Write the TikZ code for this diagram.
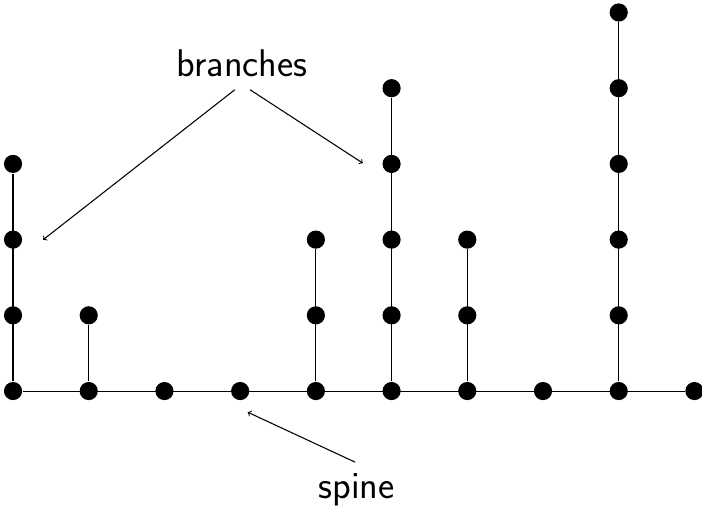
\documentclass[tikz,border=0pt]{standalone}
\usepackage[svgnames,x11names]{xcolor}
\usepackage{tikz}
\usetikzlibrary{arrows,positioning,calc}

\begin{document}
\begin{tikzpicture}[
	x=2cm, y=2cm,
	line width=0.8pt,
	vertex/.style={
		circle,
		fill=Black,
		inner sep=0pt,
		minimum width=4.8mm
	},
	tag/.style={
		font=\fontsize{29}{35}\selectfont\sffamily,
		inner sep=0pt
	},
	]
	\useasboundingbox (-0.172,-1.625) rectangle (9.1,5.165);
	% spine
	\foreach \i in {0,...,9} \node[vertex] (s\i) at (\i,0) {};
	\draw (s0) -- (s9);
	% branches
	\foreach \i/\h in {0/3,1/1,4/2,5/4,6/2,8/5}{
		\foreach \j in {1,...,\h} \node[vertex] (b\i-\j) at (\i,\j) {};
		\draw (s\i) -- (b\i-\h);
	}
	
	\node[tag] (br) at (3.025,4.33) {branches};
	\node[tag] (sp) at (4.54,-1.31) {spine};
	\coordinate (bl) at (2.93,3.98);
	\coordinate (bq) at (3.13,3.98);
	\coordinate (bl-tip) at (0.397,1.998);
	\coordinate (bq-tip) at (4.62,3.01);
	\coordinate (sp-tail) at (4.52,-0.94);
	\coordinate (sp-tip) at (3.1,-0.28);
	\draw[->] (bl) to (bl-tip);
	\draw[->] (bq) to (bq-tip);
	\draw[->] (sp-tail) to (sp-tip);
\end{tikzpicture}
\end{document}
